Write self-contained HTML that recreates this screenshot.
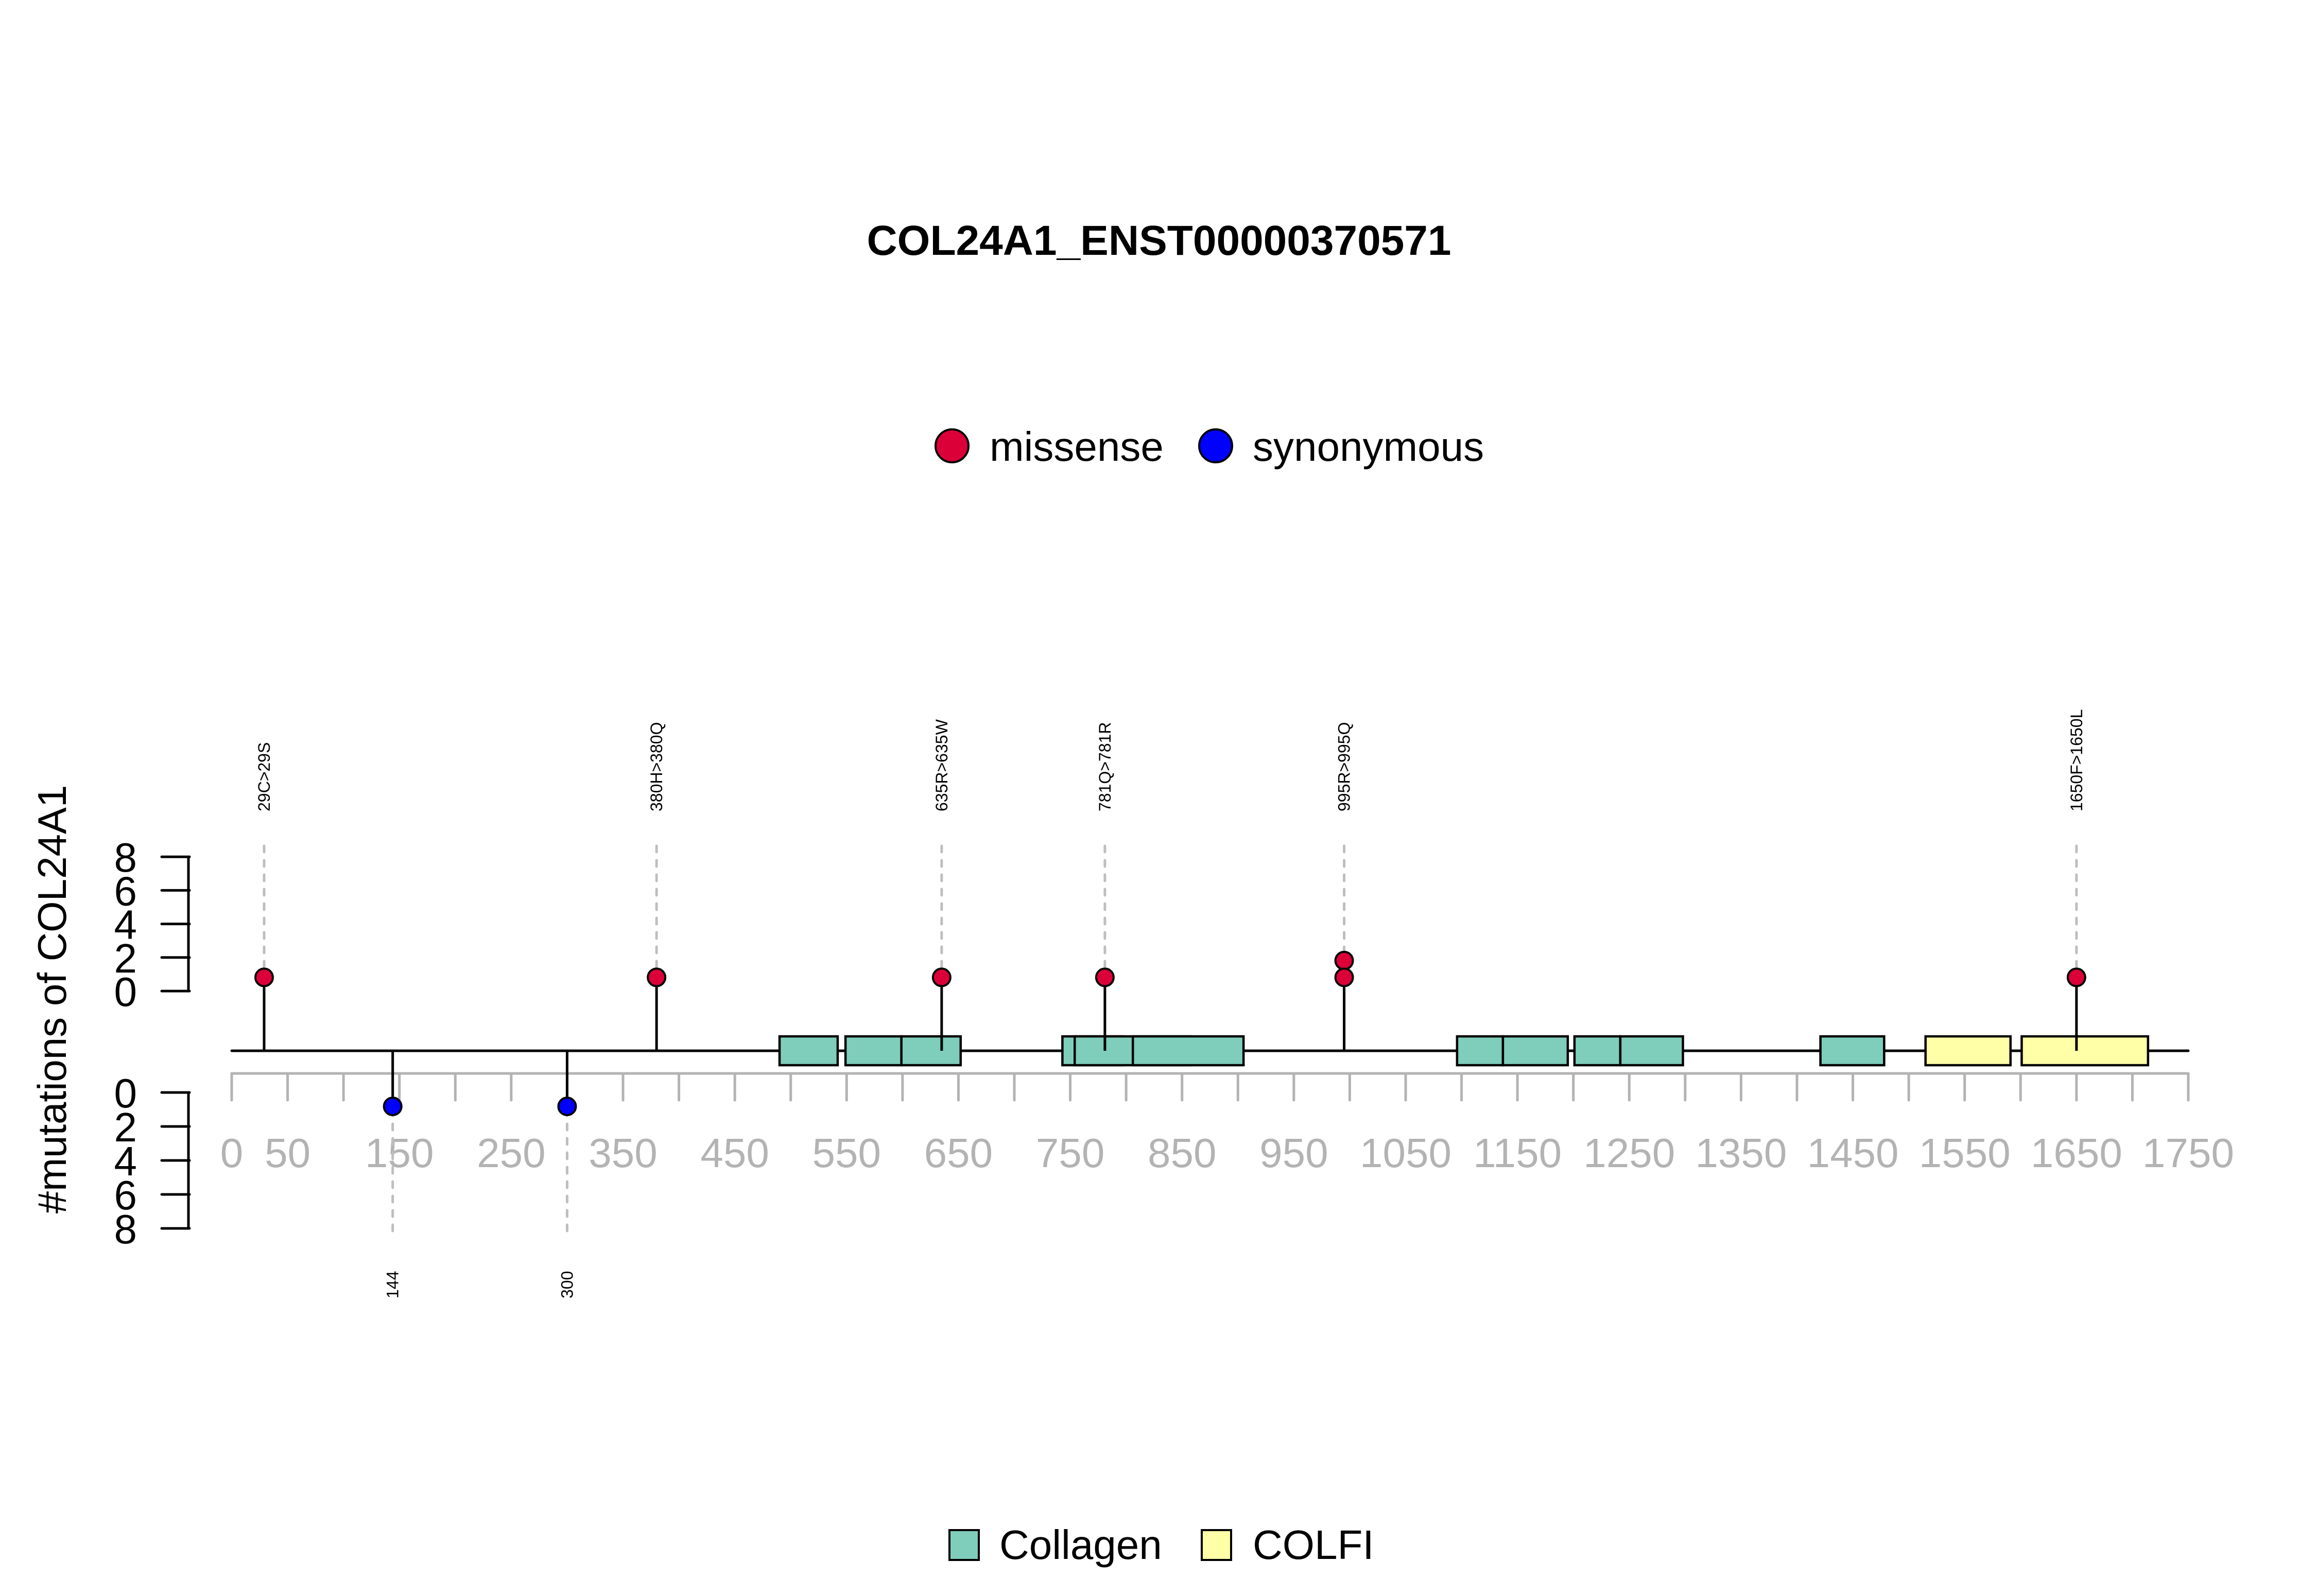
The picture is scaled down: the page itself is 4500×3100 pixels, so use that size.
<!DOCTYPE html>
<html><head><meta charset="utf-8"><style>
html,body{margin:0;padding:0;background:#fff;}
svg{display:block;font-family:"Liberation Sans",Arial,sans-serif;}
</style></head><body>
<svg id="chart" width="4500" height="3100" viewBox="0 0 4500 3100" xmlns="http://www.w3.org/2000/svg">
<text x="2251" y="495" font-size="82" font-weight="bold" text-anchor="middle">COL24A1_ENST00000370571</text>
<g>
<circle cx="1849" cy="866" r="32" fill="#dc0039" stroke="#000" stroke-width="4"/>
<text x="1922" y="895" font-size="80">missense</text>
<circle cx="2361" cy="866" r="32" fill="#0000ff" stroke="#000" stroke-width="4"/>
<text x="2433" y="895" font-size="80">synonymous</text>
</g>
<text transform="translate(128,1941) rotate(-90)" font-size="78" text-anchor="middle">#mutations of COL24A1</text>
<g id="plot"></g>
<g>
<rect x="1844" y="2972" width="57" height="58" fill="#7fcdbb" stroke="#000" stroke-width="4"/>
<text x="1941" y="3028" font-size="80">Collagen</text>
<rect x="2334" y="2972" width="57" height="58" fill="#ffffa8" stroke="#000" stroke-width="4"/>
<text x="2433" y="3028" font-size="80">COLFI</text>
</g>
</svg>
<script>
const xTicks = [0,50,150,250,350,450,550,650,750,850,950,1050,1150,1250,1350,1450,1550,1650,1750];
const xMinorTicks = [0,50,100,150,200,250,300,350,400,450,500,550,600,650,700,750,800,850,900,950,1000,1050,1100,1150,1200,1250,1300,1350,1400,1450,1500,1550,1600,1650,1700,1750];
const yTicks = [0,2,4,6,8];
const domainStarts = [490,549,599,743,754,806,1096,1137,1201,1242,1421,1515,1601];
const domainEnds = [542,599,652,797,858,905,1137,1195,1242,1298,1478,1591,1714];
const domainTypes = ["Collagen","Collagen","Collagen","Collagen","Collagen","Collagen","Collagen","Collagen","Collagen","Collagen","Collagen","COLFI","COLFI"];
const upPositions = [29,380,635,781,995,1650];
const upCounts = [1,1,1,1,2,1];
const upLabels = ["29C>29S","380H>380Q","635R>635W","781Q>781R","995R>995Q","1650F>1650L"];
const downPositions = [144,300];
const downCounts = [1,1];
const downLabels = ["144","300"];

const NS = "http://www.w3.org/2000/svg";
const plot = document.getElementById('plot');
const X = v => 450 + (v - 0) * (4250 - 450) / 1750;
const Yup = c => 1925 - c * 32.6;
const Ydown = c => 2122 + c * 33;
const BB = 2041;
function mk(tag, attrs, parent) {
  const e = document.createElementNS(NS, tag);
  for (const k in attrs) e.setAttribute(k, attrs[k]);
  (parent || plot).appendChild(e);
  return e;
}
let ax = mk('line', {x1:X(0), y1:2085, x2:X(1750), y2:2085, stroke:'#b3b3b3', 'stroke-width':5, 'stroke-linecap':'round'});


xMinorTicks.forEach(t => {
  const l = mk('line', {x1:X(t), y1:2085, x2:X(t), y2:2137, stroke:'#b3b3b3', 'stroke-width':5, 'stroke-linecap':'round'});
  
  
});
xTicks.forEach(t => {
  const tx = mk('text', {x:X(t), y:2267, 'font-size':80, fill:'#b3b3b3', 'text-anchor':'middle'});
  tx.textContent = t;
  
  
});
let ya = mk('line', {x1:366, y1:Yup(8), x2:366, y2:Yup(0), stroke:'#000', 'stroke-width':5});


let yb = mk('line', {x1:366, y1:Ydown(0), x2:366, y2:Ydown(8), stroke:'#000', 'stroke-width':5});


yTicks.forEach(t => {
  const a = mk('line', {x1:314, y1:Yup(t), x2:368, y2:Yup(t), stroke:'#000', 'stroke-width':5, 'stroke-linecap':'round'});
  
  
  const ta = mk('text', {x:266, y:Yup(t)+29, 'font-size':80, 'text-anchor':'end'});
  ta.textContent = t;
  
  
  const b = mk('line', {x1:314, y1:Ydown(t), x2:368, y2:Ydown(t), stroke:'#000', 'stroke-width':5, 'stroke-linecap':'round'});
  
  
  const tb = mk('text', {x:266, y:Ydown(t)+29, 'font-size':80, 'text-anchor':'end'});
  tb.textContent = t;
  
  
});
let bb = mk('line', {x1:X(0), y1:BB, x2:X(1750), y2:BB, stroke:'#000', 'stroke-width':5, 'stroke-linecap':'round'});


domainStarts.forEach((s, i) => {
  const r = mk('rect', {x:X(s), y:2013, width:X(domainEnds[i]) - X(s), height:56, fill: domainTypes[i] === 'COLFI' ? '#ffffa8' : '#7fcdbb', stroke:'#000', 'stroke-width':4.5});
  
  
});
upPositions.forEach((p, i) => {
  const x = X(p);
  const top = Yup(upCounts[i]) + 6;
  const d = mk('line', {x1:x, y1:1643, x2:x, y2:top, stroke:'#bebebe', 'stroke-width':5, 'stroke-dasharray':'12 16', 'stroke-linecap':'round'});
  
  
  const st = mk('line', {x1:x, y1:BB, x2:x, y2:Yup(1) + 6, stroke:'#000', 'stroke-width':5});
  
  
  for (let c = upCounts[i]; c >= 1; c--) {
    const cc = mk('circle', {cx:x, cy:Yup(c) + 6, r:17, fill:'#dc0039', stroke:'#000', 'stroke-width':4});
    
    
  }
  const t = mk('text', {transform:'translate(' + (x + 11) + ',1576) rotate(-90)', 'font-size':32});
  t.textContent = upLabels[i];
  
  
});
downPositions.forEach((p, i) => {
  const x = X(p);
  const bot = Ydown(downCounts[i]);
  const d = mk('line', {x1:x, y1:bot, x2:x, y2:2398, stroke:'#bebebe', 'stroke-width':5, 'stroke-dasharray':'12 16', 'stroke-linecap':'round'});
  
  
  const st = mk('line', {x1:x, y1:BB, x2:x, y2:bot, stroke:'#000', 'stroke-width':5});
  
  
  const cc = mk('circle', {cx:x, cy:bot - 6, r:17, fill:'#0000ff', stroke:'#000', 'stroke-width':4});
  
  
  const t = mk('text', {transform:'translate(' + (x + 11) + ',2522) rotate(-90)', 'font-size':32});
  t.textContent = downLabels[i];
  
  
});
</script>
</body></html>
